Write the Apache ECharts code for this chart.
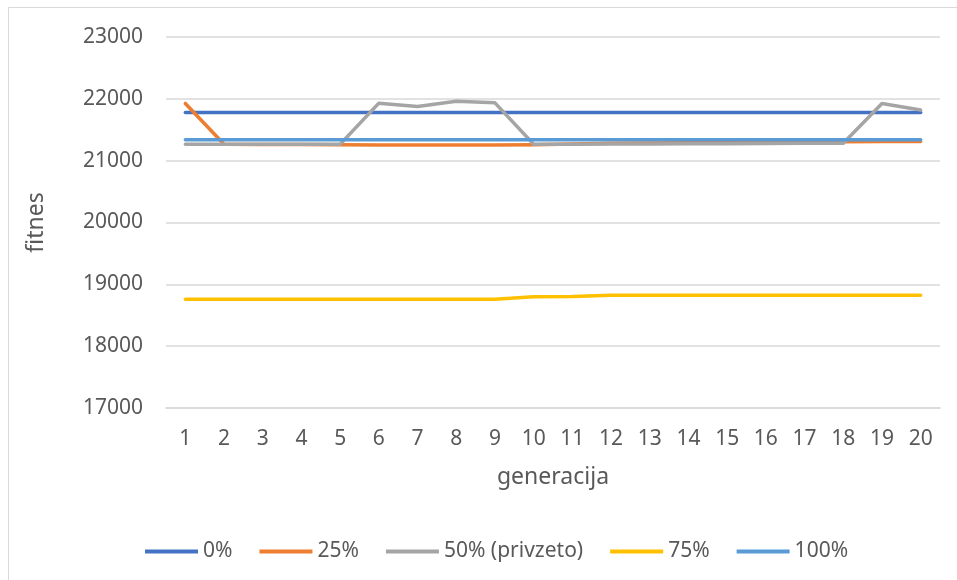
<!DOCTYPE html>
<html>
<head>
<meta charset="utf-8">
<script src="https://cdn.jsdelivr.net/npm/echarts@6/dist/echarts.min.js"></script>
<style>
  html, body { margin: 0; padding: 0; background: #fff; }
  #chart { width: 957px; height: 580px; }
</style>
</head>
<body>
<div id="chart"></div>
<script>
// Generations on the x axis
const generations = ['1','2','3','4','5','6','7','8','9','10','11','12','13','14','15','16','17','18','19','20'];

// Best fitness per generation for each setting
const s0   = [21780,21780,21780,21780,21780,21780,21780,21780,21780,21780,21780,21780,21780,21780,21780,21780,21780,21780,21780,21780];
const s25  = [21925,21265,21262,21260,21258,21255,21255,21255,21255,21258,21270,21280,21285,21290,21295,21298,21300,21305,21310,21310];
const s50  = [21265,21265,21265,21265,21265,21930,21875,21960,21935,21265,21265,21268,21270,21272,21275,21277,21280,21283,21925,21818];
const s75  = [18760,18760,18760,18760,18760,18760,18760,18760,18760,18800,18805,18825,18825,18825,18825,18825,18825,18825,18825,18825];
const s100 = [21340,21340,21340,21340,21340,21340,21340,21340,21340,21340,21340,21340,21340,21340,21340,21340,21340,21340,21340,21340];

const seriesNames = ['0%', '25%', '50% (privzeto)', '75%', '100%'];
const seriesData = [s0, s25, s50, s75, s100];
const colors = ['#4472C4', '#ED7D31', '#A5A5A5', '#FFC000', '#5B9BD5'];

const font = '"Noto Sans", "Open Sans", sans-serif';
const textColor = '#595959';
const tickFs = 21;
const nameFs = 23;

const chart = echarts.init(document.getElementById('chart'), null, { renderer: 'canvas' });

chart.setOption({
  animation: false,
  color: colors,
  textStyle: { fontFamily: font, color: textColor },
  graphic: [{
    type: 'rect',
    shape: { x: 8.5, y: 7.5, width: 1200, height: 1200 },
    style: { fill: 'none', stroke: '#D9D9D9', lineWidth: 1 },
    silent: true
  }],
  grid: { left: 166, right: 17, top: 37, bottom: 172 },
  legend: {
    bottom: 13,
    left: 140,
    itemWidth: 53,
    itemHeight: 4,
    itemGap: 27,
    icon: 'rect',
    textStyle: { fontFamily: font, fontSize: tickFs, color: textColor },
    data: seriesNames
  },
  xAxis: {
    type: 'category',
    data: generations,
    boundaryGap: true,
    name: 'generacija',
    nameLocation: 'middle',
    nameGap: 58,
    nameTextStyle: { fontFamily: font, fontSize: nameFs, color: textColor },
    axisLine: { show: true, lineStyle: { color: '#D9D9D9', width: 1.5 } },
    axisTick: { show: false },
    axisLabel: { fontFamily: font, fontSize: tickFs, color: textColor, margin: 21, interval: 0 }
  },
  yAxis: {
    type: 'value',
    min: 17000,
    max: 23000,
    interval: 1000,
    name: 'fitnes',
    nameLocation: 'middle',
    nameGap: 118,
    nameTextStyle: { fontFamily: font, fontSize: nameFs, color: textColor },
    axisLine: { show: false },
    axisTick: { show: false },
    axisLabel: {
      fontFamily: font, fontSize: tickFs, color: textColor, margin: 23,
      formatter: v => String(v)
    },
    splitLine: { lineStyle: { color: '#D9D9D9', width: 1.5 } }
  },
  series: seriesNames.map((name, i) => ({
    name: name,
    type: 'line',
    data: seriesData[i],
    showSymbol: false,
    symbol: 'none',
    lineStyle: { width: 3.5, color: colors[i], cap: 'round', join: 'round' },
    itemStyle: { color: colors[i] },
    z: 2 + i
  }))
});
</script>
</body>
</html>
